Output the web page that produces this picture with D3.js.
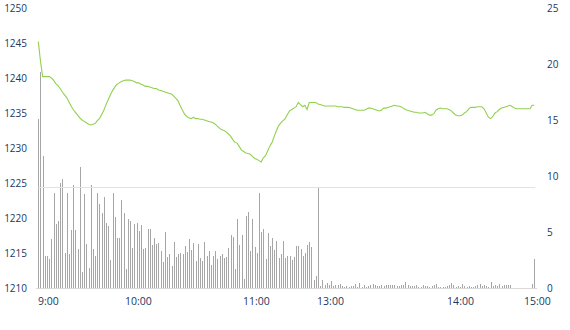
<!DOCTYPE html>
<html>
<head>
<meta charset="utf-8">
<script src="https://cdn.jsdelivr.net/npm/d3@7"></script>
<style>
  body { margin: 0; background: #fff; }
  text { font-family: "Open Sans", sans-serif; fill: #203864; }
</style>
</head>
<body>
<script>

// price per minute (left axis)
var price = [
  1245.2,1242.4,1240.2,1240.2,1240.2,1240.2,1240.0,1239.7,1239.2,1238.9,
  1238.5,1238.0,1237.6,1237.2,1236.6,1236.0,1235.5,1235.1,1234.7,1234.3,
  1234.0,1233.8,1233.6,1233.4,1233.3,1233.4,1233.5,1233.9,1234.2,1234.8,
  1235.4,1236.2,1236.9,1237.6,1238.2,1238.7,1239.1,1239.3,1239.5,1239.6,
  1239.7,1239.7,1239.7,1239.6,1239.5,1239.3,1239.3,1239.1,1239.0,1238.8,
  1238.8,1238.7,1238.6,1238.5,1238.5,1238.3,1238.2,1238.1,1238.0,1237.9,
  1237.8,1237.7,1237.4,1237.1,1236.7,1236.0,1235.4,1234.8,1234.5,1234.3,
  1234.2,1234.4,1234.2,1234.2,1234.1,1234.1,1234.0,1233.9,1233.8,1233.7,1233.6,
  1233.4,1233.1,1232.8,1232.6,1232.5,1232.3,1232.0,1231.7,1231.2,1230.8,
  1230.7,1230.2,1229.7,1229.5,1229.3,1229.2,1229.1,1228.8,1228.5,1228.4,
  1228.2,1228.0,1228.6,1228.9,1229.6,1230.3,1230.8,1231.7,1232.5,1233.2,
  1233.6,1233.9,1234.2,1234.8,1235.3,1235.5,1235.7,1235.9,1236.5,1236.2,
  1235.9,1236.1,1235.5,1236.5,1236.5,1236.5,1236.5,1236.3,1236.2,1236.1,
  1236.0,1236.0,1236.0,1236.0,1236.0,1236.0,1235.9,1235.9,1235.9,1235.8,
  1235.8,1235.8,1235.7,1235.6,1235.5,1235.4,1235.4,1235.4,1235.4,1235.5,1235.7,
  1235.7,1235.6,1235.5,1235.4,1235.3,1235.4,1235.7,1235.7,1235.8,1235.9,
  1236.0,1236.1,1236.0,1236.0,1235.9,1235.7,1235.5,1235.4,1235.3,1235.2,
  1235.1,1235.1,1235.0,1235.0,1235.0,1235.1,1234.9,1234.7,1234.7,1234.9,
  1235.4,1235.6,1235.7,1235.6,1235.6,1235.6,1235.5,1235.3,1235.0,1234.7,
  1234.6,1234.6,1234.7,1235.0,1235.2,1235.6,1235.8,1235.8,1235.8,1235.9,
  1235.9,1235.9,1235.6,1235.0,1234.4,1234.2,1234.5,1235.0,1235.2,1235.5,
  1235.7,1235.8,1235.9,1236.0,1236.1,1235.9,1235.7,1235.6,1235.6,1235.6,
  1235.6,1235.6,1235.6,1235.6,1236.1,1236.1
];

// volume per minute (right axis)
var volume = [
  15.1,19.3,11.8,2.85,2.85,2.6,4.4,8.5,5.7,6.0,
  9.4,9.7,3.1,8.5,3.0,5.2,9.2,5.2,3.5,10.8,
  1.4,8.4,3.9,1.8,9.2,3.5,2.9,8.5,7.5,6.7,
  8.1,5.8,5.5,2.5,8.5,6.3,4.5,4.5,
  7.86,6.7,1.7,6.2,6.0,3.6,5.7,5.8,5.1,5.6,
  3.5,3.6,5.3,5.3,3.8,4.5,3.9,4.0,3.3,2.3,
  5.0,2.8,3.0,2.0,4.1,2.8,3.0,3.1,3.0,3.75,
  3.2,4.4,3.4,4.0,2.4,3.9,2.7,2.4,
  4.1,2.9,3.3,2.05,2.9,3.3,2.6,2.9,3.0,2.7,
  2.8,3.6,4.7,4.55,1.7,6.2,3.8,4.7,0.8,6.4,
  6.8,3.3,6.2,3.7,3.1,8.5,5.0,5.3,2.6,4.9,
  3.75,4.5,3.4,4.2,2.7,3.0,4.2,2.7,
  2.9,2.9,2.5,2.8,3.75,3.75,3.5,2.9,3.1,3.8,4.1,3.7,0.7,1.07,
  8.95,
  0.2,0.7,0.27,0.45,0.27,0.6,0.2,0.27,0.27,0.36,0.2,0.1,
  0.2,0.1,0.2,0.2,0.36,0.1,0.45,0.1,0.27,0.1,0.2,0.27,
  0.36,0.27,0.18,0.18,0.27,0.18,0.27,0.27,0.27,0.27,
  0.27,0.18,0.18,0.27,0.27,0.54,0.27,0.18,0.18,0.18,
  0.27,0.12,0.12,0.27,0.18,0.18,0.12,0.18,0.27,0.36,
  0.12,0.12,0.12,0.12,0.18,0.27,0.45,0.27,0.12,0.18,
  0.12,0.36,0.18,0.12,0.18,0.12,0.12,0.18,0.27,0.36,
  0.18,0.27,0.18,0.12,0.54,0.18,0.27,0.18,0.36,0.18,
  0.27,0.27,0.27,0.27,
  0,0,0,0,0,0,0,0,0,
  0.36,2.56
];

var timeLabels = ["9:00", "10:00", "11:00", "13:00", "14:00", "15:00"];
var timeTickIdx = [4.4, 45.6, 99.6, 133.5, 193, 228.2];
var priceTicks = [1210, 1215, 1220, 1225, 1230, 1235, 1240, 1245, 1250];
var volumeTicks = [0, 5, 10, 15, 20, 25];
var volumeLevel = 9.0;

var width = 570;
var height = 330;

var svg = d3.select("body").append("svg")
    .attr("width", width)
    .attr("height", height);

var x = d3.scaleLinear().domain([0, price.length - 1]).range([38.3, 534.3]);
var yPrice = d3.scaleLinear().domain([1210, 1250]).range([288, 8]);
var yVol = d3.scaleLinear().domain([0, 25]).range([288, 8]);

// baseline
svg.append("line")
    .attr("x1", 36).attr("x2", 537)
    .attr("y1", 288.5).attr("y2", 288.5)
    .attr("stroke", "#d9d9d9");

svg.append("g")
    .attr("shape-rendering", "crispEdges")
  .selectAll("rect")
  .data(volume)
  .enter().append("rect")
    .attr("x", function(d, i) { return Math.round(x(i)); })
    .attr("width", 1)
    .attr("y", function(d) { return yVol(d); })
    .attr("height", function(d) { return yVol(0) - yVol(d); })
    .attr("fill", "#a6a6a6");

svg.append("line")
    .attr("x1", x(0)).attr("x2", x(price.length - 1) + 1)
    .attr("y1", Math.round(yVol(volumeLevel)) + 0.5)
    .attr("y2", Math.round(yVol(volumeLevel)) + 0.5)
    .attr("stroke", "#ffff00");

var line = d3.line()
    .x(function(d, i) { return x(i); })
    .y(function(d) { return yPrice(d); });

svg.append("path")
    .datum(price)
    .attr("d", line)
    .attr("fill", "none")
    .attr("stroke", "#92d050")
    .attr("stroke-width", 1.1);

// axes, drawn without domain lines or ticks
var leftAxis = svg.append("g")
    .attr("transform", "translate(27,0)")
    .call(d3.axisLeft(yPrice).tickValues(priceTicks).tickSize(0).tickPadding(0)
      .tickFormat(d3.format("d")));

var rightAxis = svg.append("g")
    .attr("transform", "translate(547,0)")
    .call(d3.axisRight(yVol).tickValues(volumeTicks).tickSize(0).tickPadding(0)
      .tickFormat(d3.format("d")));

var bottomAxis = svg.append("g")
    .attr("transform", "translate(0,298)")
    .call(d3.axisBottom(x).tickValues(timeTickIdx).tickSize(0).tickPadding(0)
      .tickFormat(function(d, i) { return timeLabels[i]; }));

[leftAxis, rightAxis, bottomAxis].forEach(function(a) {
  a.select(".domain").remove();
  a.selectAll("text")
      .attr("font-family", "Open Sans, sans-serif")
      .attr("fill", "#203864");
});
leftAxis.selectAll("text").attr("font-size", "10px");
rightAxis.selectAll("text").attr("font-size", "10px");
bottomAxis.selectAll("text").attr("font-size", "10.5px");

</script>
</body>
</html>
